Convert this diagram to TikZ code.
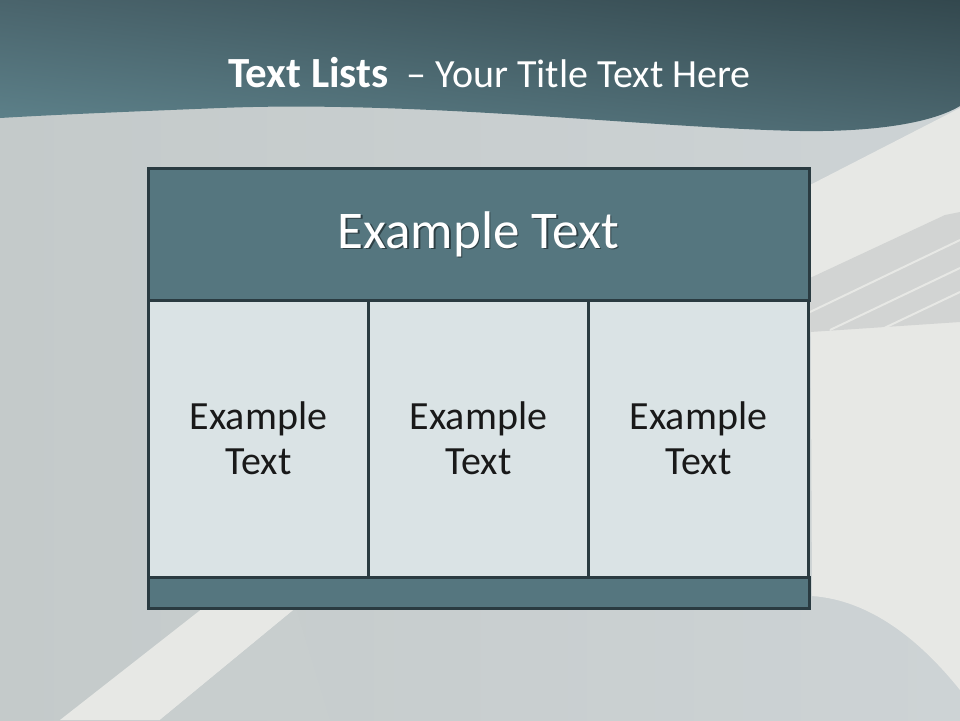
\documentclass[tikz,border=0pt]{standalone}
\usepackage{fontspec}
\setmainfont{Carlito}
\usetikzlibrary{shadings}
\definecolor{bggrey}{HTML}{CDD3D5}
\definecolor{bgleft}{HTML}{C4CACA}
\definecolor{bglight}{HTML}{E7E8E5}
\definecolor{bgstripe}{HTML}{D2D4D3}
\definecolor{bandA}{HTML}{4A646C}
\definecolor{bandB}{HTML}{33484E}
\definecolor{bandC}{HTML}{5E838C}
\definecolor{bandD}{HTML}{4C6870}
\definecolor{frame}{HTML}{2A3B41}
\definecolor{teal}{HTML}{55767F}
\definecolor{cellfill}{HTML}{DAE3E5}
\begin{document}
\begin{tikzpicture}[x=1pt, y=-1pt,
  tealbox/.style={draw=frame, line width=3pt, fill=teal, minimum width=661pt, inner sep=0pt},
  cellbox/.style={draw=frame, line width=3pt, fill=cellfill, minimum width=220pt, minimum height=277pt,
    inner sep=0pt, align=center, text=black!90, font=\fontsize{40}{45}\selectfont}]
 \useasboundingbox (0,0) rectangle (960,720);
 \shade[left color=bgleft, right color=bggrey] (0,0) rectangle (960,720);
 \fill[bglight] (810,185) -- (960,108) -- (960,690) .. controls (920,640) and (870,600) .. (812,596) -- cycle;
 \fill[bgstripe] (810,278) -- (945,215) -- (960,212) -- (960,322) -- (810,332) -- cycle;
 \draw[bglight, line width=2pt] (810,312) -- (960,240) (830,330) -- (960,268) (880,330) -- (960,292);
 \fill[bglight] (60,720) -- (203,608) -- (296,608) -- (160,720) -- cycle;
 \fill[bgleft!60!bggrey] (160,720) -- (296,608) -- (330,720) -- cycle;
 \shade[upper left=bandA, upper right=bandB, lower left=bandC, lower right=bandD]
   (0,0) -- (960,0) -- (960,106) .. controls (930,124) and (870,132) .. (800,131)
   .. controls (650,128) and (420,100) .. (220,108) .. controls (120,112) and (50,115) .. (0,118) -- cycle;
 \node[anchor=base west, inner sep=0pt, text=white, font=\fontsize{43}{43}\selectfont] (title) at (228,87)
   {\textbf{Text Lists}{\fontsize{40}{40}\selectfont\ \ -- Your Title Text Here}};
 \node[tealbox, minimum height=132pt] (hdr) at (478.5,234) {};
 \node[text=black, opacity=0.45, font=\fontsize{53}{53}\selectfont] (hdrshadow) at (480,235.5) {Example Text};
 \node[text=white, font=\fontsize{53}{53}\selectfont] (hdrtext) at (hdr) {Example Text};
 \foreach \i/\x in {1/258.5, 2/478.5, 3/698.5}
  \node[cellbox] (c\i) at (\x,438.5) {Example\\Text};
 \node[tealbox, minimum height=31pt] (ftr) at (478.5,592.5) {};
\end{tikzpicture}
\end{document}
